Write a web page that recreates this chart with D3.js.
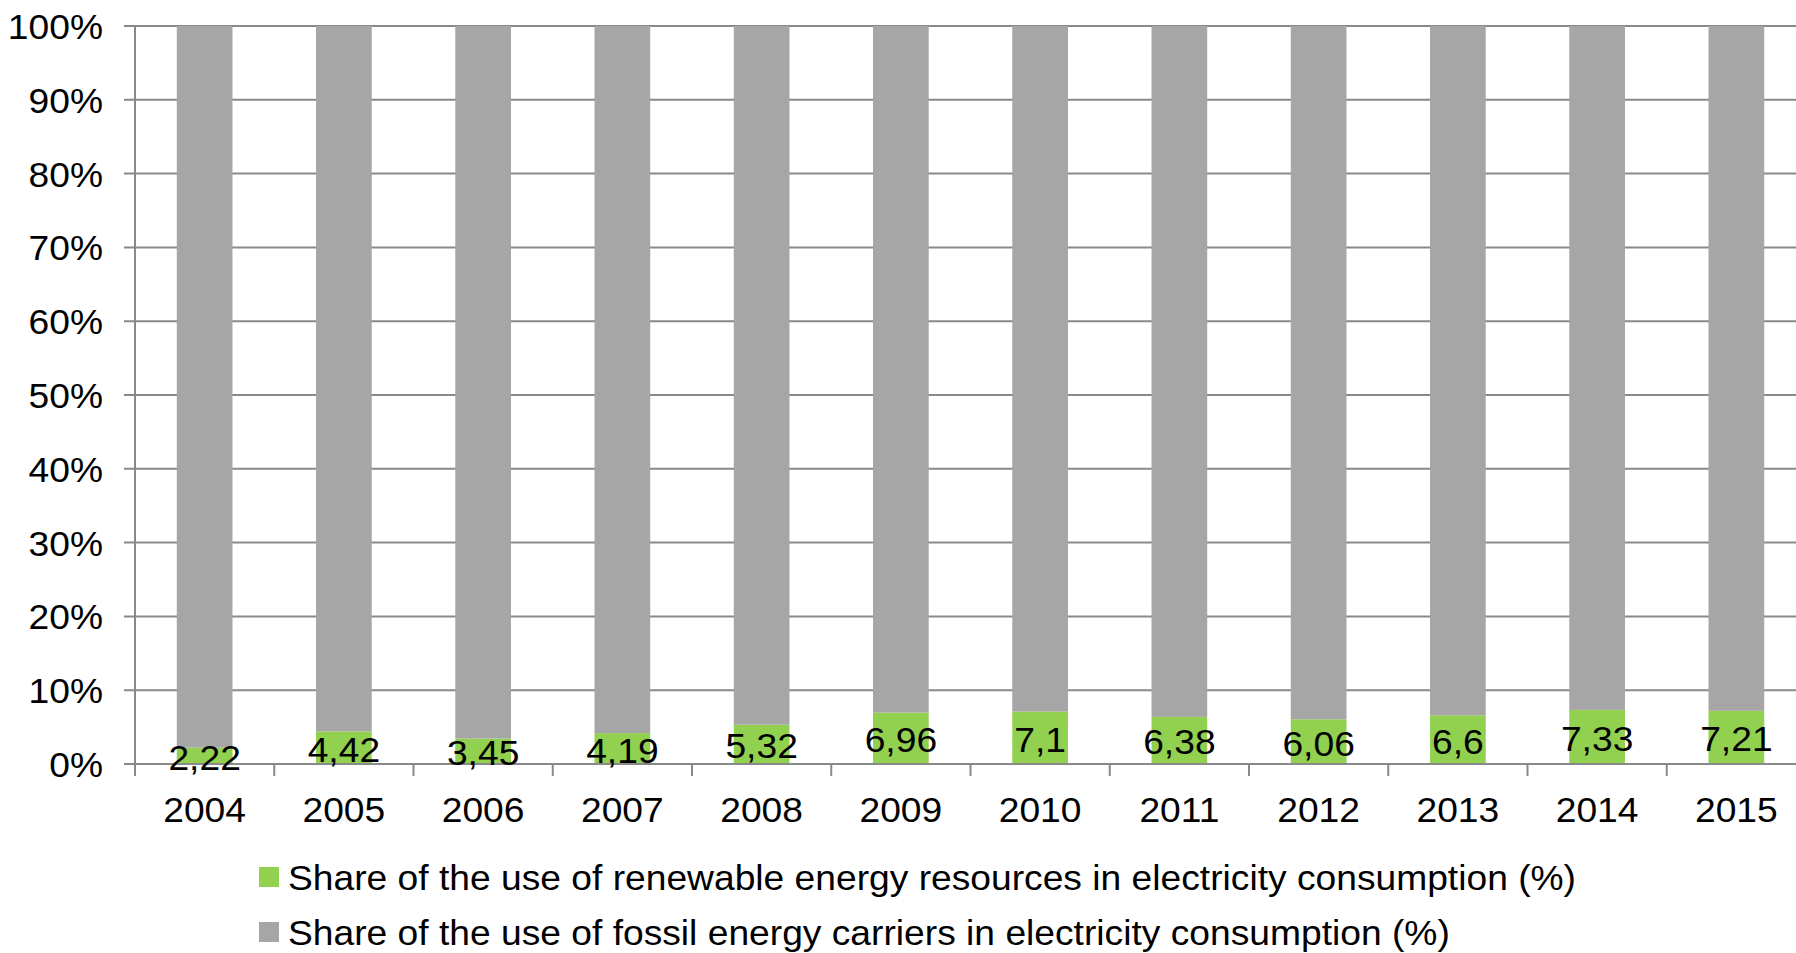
<!DOCTYPE html>
<html>
<head>
<meta charset="utf-8">
<script src="https://cdn.jsdelivr.net/npm/d3@7"></script>
<style>
  html, body { margin: 0; padding: 0; background: #fff; overflow: hidden; }
  #svg-container { width: 1796px; height: 953px; }
  text { font-family: "Liberation Sans", Arial, sans-serif; fill: #000; }
</style>
</head>
<body>
<div id="svg-container"></div>
<script>
////////////////////////////  Data  ////////////////////////////
const years = ["2004", "2005", "2006", "2007", "2008", "2009", "2010", "2011", "2012", "2013", "2014", "2015"];
const renewable = [2.22, 4.42, 3.45, 4.19, 5.32, 6.96, 7.1, 6.38, 6.06, 6.6, 7.33, 7.21];
const fossil = renewable.map((d) => 100 - d);
const yTicks = [0, 10, 20, 30, 40, 50, 60, 70, 80, 90, 100];
const legendLabels = [
  "Share of the use of renewable energy resources in electricity consumption (%)",
  "Share of the use of fossil energy carriers in electricity consumption (%)",
];

////////////////////////////  Init  ////////////////////////////
const width = 1796;
const height = 953;
const margin = { top: 26, right: -10, bottom: 189, left: 135 };

const colors = { renewable: "#92d050", fossil: "#a6a6a6", grid: "#898989" };
const fontSize = 35;
const stretch = 1.063; // the source text is a bit wider than plain Arial

const svg = d3
  .select("#svg-container")
  .append("svg")
  .attr("width", width)
  .attr("height", height);

const data = years.map((y, i) => ({ year: y, renewable: renewable[i], fossil: fossil[i] }));

// place a text at (x, y) with the horizontal stretch
const place = (x, y) => `translate(${x}, ${y}) scale(${stretch}, 1)`;

// scale
const xScale = d3
  .scaleBand()
  .domain(years)
  .range([margin.left, width - margin.right])
  .paddingInner(0.6)
  .paddingOuter(0.3);

const yScale = d3.scaleLinear().domain([0, 100]).range([height - margin.bottom, margin.top]);

// gridlines + y labels
const yAxis = svg.append("g").attr("class", "y-axis");

yAxis
  .selectAll("line")
  .data(yTicks)
  .join("line")
  .attr("x1", margin.left - 11)
  .attr("x2", width - margin.right)
  .attr("y1", (d) => yScale(d))
  .attr("y2", (d) => yScale(d))
  .attr("stroke", colors.grid)
  .attr("stroke-width", 2);

yAxis
  .selectAll("text")
  .data(yTicks)
  .join("text")
  .attr("transform", (d) => place(margin.left - 32, yScale(d) + 13))
  .attr("text-anchor", "end")
  .attr("font-size", fontSize)
  .text((d) => d + "%");

// vertical axis line
svg
  .append("line")
  .attr("x1", margin.left)
  .attr("x2", margin.left)
  .attr("y1", yScale(100))
  .attr("y2", yScale(0) + 12)
  .attr("stroke", colors.grid)
  .attr("stroke-width", 2);

// stacked bars
const stack = d3.stack().keys(["renewable", "fossil"]);
const series = stack(data);

svg
  .append("g")
  .selectAll("g")
  .data(series)
  .join("g")
  .attr("fill", (s) => colors[s.key])
  .selectAll("rect")
  .data((s) => s)
  .join("rect")
  .attr("x", (d) => xScale(d.data.year))
  .attr("width", xScale.bandwidth())
  .attr("y", (d) => yScale(d[1]))
  .attr("height", (d) => yScale(d[0]) - yScale(d[1]));

// x axis line on top of bars
svg
  .append("line")
  .attr("x1", margin.left - 11)
  .attr("x2", width - margin.right)
  .attr("y1", yScale(0))
  .attr("y2", yScale(0))
  .attr("stroke", colors.grid)
  .attr("stroke-width", 2);

// x ticks between categories
svg
  .append("g")
  .selectAll("line")
  .data(years)
  .join("line")
  .attr("x1", (d) => xScale(d) - xScale.step() * 0.3)
  .attr("x2", (d) => xScale(d) - xScale.step() * 0.3)
  .attr("y1", yScale(0))
  .attr("y2", yScale(0) + 12)
  .attr("stroke", colors.grid)
  .attr("stroke-width", 2);

// x labels
svg
  .append("g")
  .selectAll("text")
  .data(years)
  .join("text")
  .attr("transform", (d) => place(xScale(d) + xScale.bandwidth() / 2, yScale(0) + 58))
  .attr("text-anchor", "middle")
  .attr("font-size", fontSize)
  .text((d) => d);

// data labels, centered in green segment
svg
  .append("g")
  .selectAll("text")
  .data(data)
  .join("text")
  .attr("transform", (d) => place(xScale(d.year) + xScale.bandwidth() / 2, yScale(d.renewable / 2) + 14))
  .attr("text-anchor", "middle")
  .attr("font-size", fontSize)
  .text((d) => String(d.renewable).replace(".", ","));

// legend
const legend = svg
  .append("g")
  .selectAll("g")
  .data(legendLabels)
  .join("g")
  .attr("transform", (d, i) => `translate(259, ${867 + i * 55})`);

legend
  .append("rect")
  .attr("width", 20)
  .attr("height", 20)
  .attr("fill", (d, i) => (i === 0 ? colors.renewable : colors.fossil));

legend
  .append("text")
  .attr("transform", place(29, 23))
  .attr("font-size", fontSize)
  .text((d) => d);
</script>
</body>
</html>
